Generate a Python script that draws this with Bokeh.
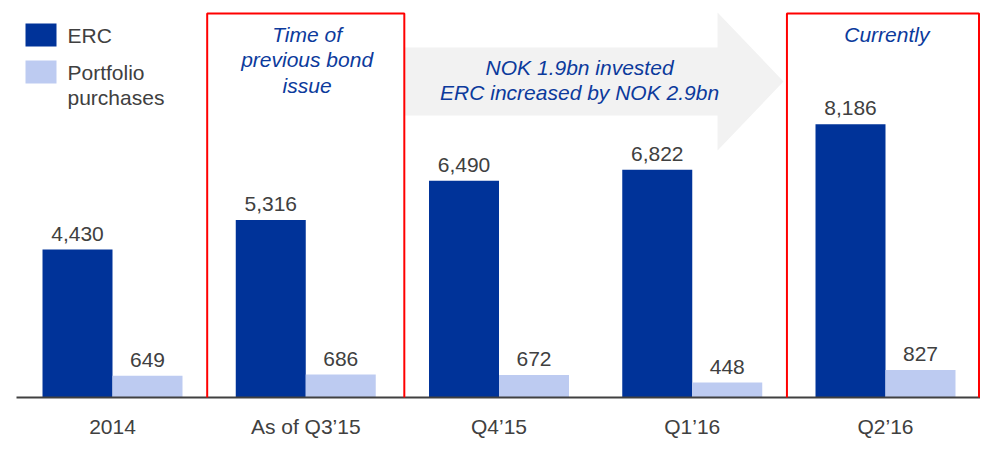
from bokeh.plotting import figure
from bokeh.models import Range1d, FixedTicker, BoxAnnotation, ColumnDataSource
from bokeh.transform import dodge
from bokeh.core.properties import value
from bokeh.embed import file_html
from bokeh.resources import INLINE

# ---- data ----
categories = ["2014", "As of Q3\u201915", "Q4\u201915", "Q1\u201916", "Q2\u201916"]
erc = [4430, 5316, 6490, 6822, 8186]
portfolio = [649, 686, 672, 448, 827]
series_names = ["ERC", "Portfolio", "purchases"]
highlight_idx = [1, 4]
highlight_notes = [["Time of", "previous bond", "issue"], ["Currently"]]
arrow_notes = ["NOK 1.9bn invested", "ERC increased by NOK 2.9bn"]

FONT = "Liberation Sans"
DARK = "#003399"
LIGHT = "#bdcbf1"
GREY = "#404040"
NOTE = "#0c3a9c"
FIX = -9  # baseline correction for text (px)

idx = list(range(len(categories)))
src = ColumnDataSource(dict(
    x=idx, erc=erc, pp=portfolio,
    erc_lbl=[f"{v:,}" for v in erc], pp_lbl=[f"{v:,}" for v in portfolio],
))

p = figure(width=980, height=447, output_backend="svg", toolbar_location=None,
           x_range=Range1d(-0.4968, 4.4916), y_range=Range1d(0, 11650),
           y_axis_location=None, min_border_left=16, min_border_right=0,
           min_border_top=8, min_border_bottom=50)
p.outline_line_color = None
p.grid.visible = False
p.background_fill_color = "white"

sy = 11650 / 389.0
def ypx(img_y):  # image y -> data y
    return (397 - img_y) * sy
def xpx(img_x):  # image x -> data x
    return (img_x - 112) / 193.25

# arrow (decoration)
ax = [1.511, 3.131, 3.131, 3.472, 3.131, 3.131, 1.511]
ay = [ypx(47), ypx(47), ypx(12), ypx(81), ypx(150), ypx(115), ypx(115)]
p.patch(ax, ay, fill_color="#f2f2f2", line_color=None)

bw = 0.3622
r1 = p.vbar(x=dodge("x", -bw / 2), top="erc", width=bw, source=src,
            fill_color=DARK, line_color=None)
r2 = p.vbar(x=dodge("x", bw / 2), top="pp", width=bw, source=src,
            fill_color=LIGHT, line_color=None)

common = dict(text_font=value(FONT), text_font_size="21px", text_color=GREY,
              text_align="center", text_baseline="alphabetic", y_offset=-7 + FIX)
p.text(x=dodge("x", -bw / 2), y="erc", text="erc_lbl", source=src, **common)
p.text(x=dodge("x", bw / 2), y="pp", text="pp_lbl", source=src, **common)

# highlight boxes
for i in highlight_idx:
    p.add_layout(BoxAnnotation(left=i - 0.51, right=min(i + 0.51, xpx(978.5)),
                               top=ypx(13), bottom=ypx(470),
                               fill_alpha=0, line_color="#ff0000", line_alpha=1.0,
                               line_width=2))

note_style = dict(text_font=value(FONT), text_font_size="21px", text_color=NOTE,
                  text_font_style="italic", text_align="center",
                  text_baseline="alphabetic", y_offset=FIX)
baselines = [42.7, 68.3, 94.0]
for i, lines in zip(highlight_idx, highlight_notes):
    p.text(x=[i + 0.007] * len(lines), y=[ypx(b) for b in baselines[:len(lines)]],
           text=lines, **note_style)
p.text(x=[2.417, 2.417], y=[ypx(76), ypx(101)], text=arrow_notes, **note_style)

# legend (manual, to keep two-line label aligned like the original)
p.rect(x=[xpx(40.5)] * 2, y=[ypx(34.5), ypx(71.5)], width=31, height=23,
       width_units="screen", height_units="screen",
       fill_color=[DARK, LIGHT], line_color=None)
p.text(x=[xpx(67)] * 3, y=[ypx(44.3), ypx(80.5), ypx(105.5)], text=series_names,
       text_font=value(FONT), text_font_size="21px", text_color=GREY,
       text_align="left", text_baseline="alphabetic", y_offset=FIX)

# x axis
xa = p.xaxis[0]
xa.ticker = FixedTicker(ticks=idx)
xa.major_label_overrides = {i: c for i, c in zip(idx, categories)}
xa.major_tick_line_color = None
xa.minor_tick_line_color = None
xa.axis_line_color = GREY
xa.axis_line_width = 2
xa.major_label_text_font = FONT
xa.major_label_text_font_size = "21px"
xa.major_label_text_color = GREY
xa.major_label_standoff = 11

open("out.html", "w").write(file_html(p, INLINE))
